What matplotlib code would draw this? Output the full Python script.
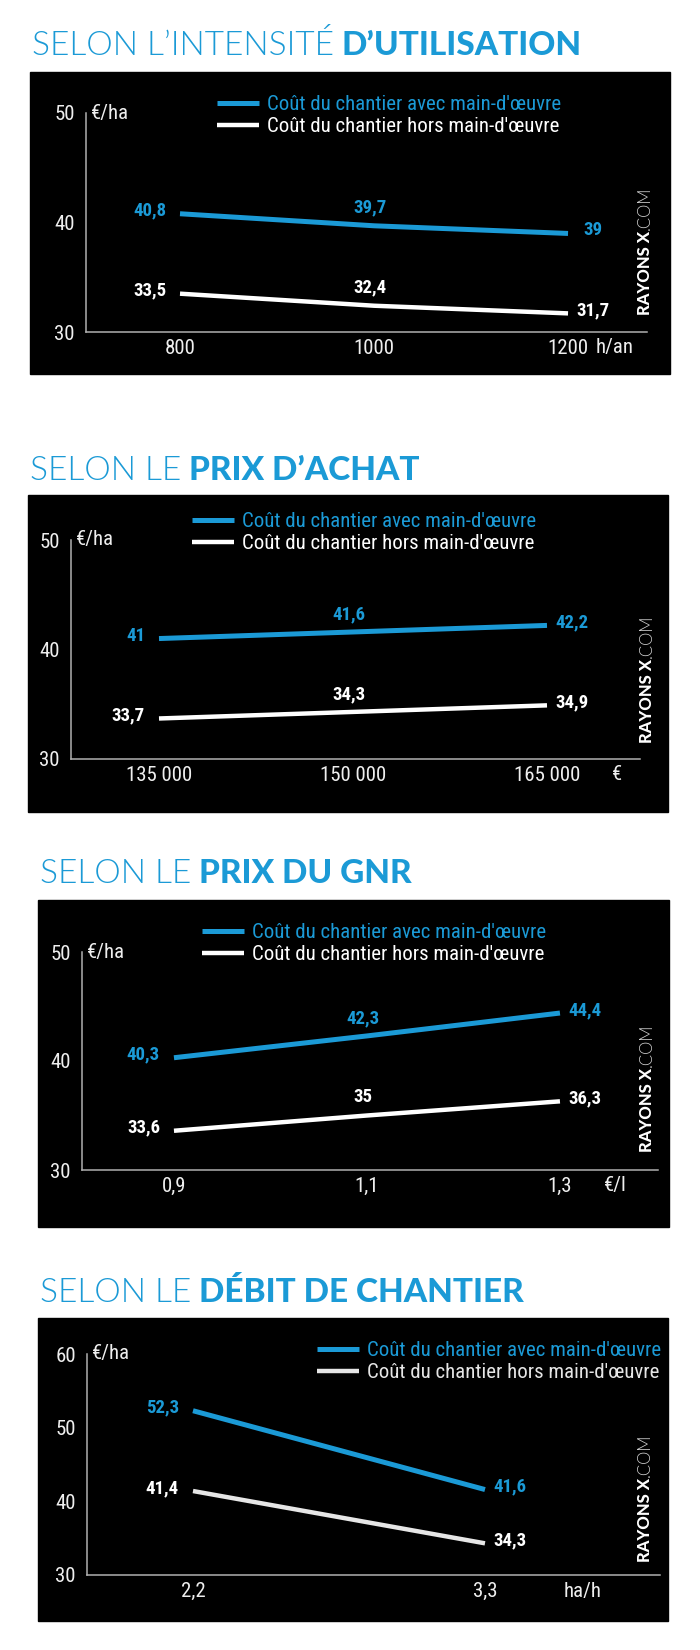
import matplotlib
matplotlib.use('Agg')
import matplotlib.pyplot as plt
from matplotlib.patches import Rectangle
from matplotlib.lines import Line2D
from matplotlib.font_manager import FontProperties

BLUE = '#1b9ad6'
GREY = '#b0b0b0'
NARROW = ['Roboto Condensed', 'DejaVu Sans']
TITLE_FONT = ['Lato', 'DejaVu Sans']

LEG_AVEC = "Coût du chantier avec main-d'œuvre"
LEG_HORS = "Coût du chantier hors main-d'œuvre"

# --- data ---
util_x = [800, 1000, 1200]
util_avec = [40.8, 39.7, 39.0]
util_hors = [33.5, 32.4, 31.7]
util_ticks = ['800', '1000', '1200']

achat_x = [135000, 150000, 165000]
achat_avec = [41.0, 41.6, 42.2]
achat_hors = [33.7, 34.3, 34.9]
achat_ticks = ['135 000', '150 000', '165 000']

gnr_x = [0.9, 1.1, 1.3]
gnr_avec = [40.3, 42.3, 44.4]
gnr_hors = [33.6, 35.0, 36.3]
gnr_ticks = ['0,9', '1,1', '1,3']

debit_x = [2.2, 3.3]
debit_avec = [52.3, 41.6]
debit_hors = [41.4, 34.3]
debit_ticks = ['2,2', '3,3']

W, H = 700, 1650
fig = plt.figure(figsize=(W / 100, H / 100), dpi=100)
fig.patch.set_facecolor('white')
renderer = fig.canvas.get_renderer()


def fx(x):
    return x / W


def fy(y):
    return 1 - y / H


def fr(v):
    return f'{v:g}'.replace('.', ',')


def title(x, y, light, bold):
    t = fig.text(fx(x), fy(y), light, family=TITLE_FONT, fontweight=300,
                 fontsize=24, color=BLUE, va='baseline')
    bb = t.get_window_extent(renderer)
    fig.text(fx(bb.x1 + 8), fy(y), bold, family=TITLE_FONT, fontweight=900,
             fontsize=24, color=BLUE, va='baseline')


def watermark(x, y):
    t = fig.text(fx(x), fy(y), 'RAYONS X', family=TITLE_FONT,
                 fontweight=900, fontsize=12, color='white', rotation=90,
                 ha='center', va='bottom')
    bb = t.get_window_extent(renderer)
    fig.text(fx(x), (bb.y1 + 1) / H, '.COM', family=TITLE_FONT,
             fontweight=300, fontsize=12, color='#d0d0d0', rotation=90,
             ha='center', va='bottom')


def panel(box, axpix, xs, avec, hors, ticks, xlim, ylim, yticks,
          ttl, leg, unit, wm, hors_color='white'):
    x0, y0, x1, y1 = box
    fig.add_artist(Rectangle((fx(x0), fy(y1)), (x1 - x0) / W, (y1 - y0) / H,
                             transform=fig.transFigure, color='black', zorder=0))
    ax_l, ax_t, ax_r, ax_b = axpix
    ax = fig.add_axes([fx(ax_l), fy(ax_b), (ax_r - ax_l) / W, (ax_b - ax_t) / H])
    ax.set_facecolor('none')
    for s in ['top', 'right']:
        ax.spines[s].set_visible(False)
    for s in ['left', 'bottom']:
        ax.spines[s].set_color(GREY)
        ax.spines[s].set_linewidth(1.1)
    ax.set_xlim(*xlim)
    ax.set_ylim(*ylim)
    ax.set_xticks(xs, ticks)
    ax.set_yticks(yticks, [str(v) for v in yticks])
    ax.tick_params(length=0, colors='#eeeeee', labelsize=15)
    ax.tick_params(axis='x', pad=5)
    ax.tick_params(axis='y', pad=8)
    for lab in ax.get_xticklabels() + ax.get_yticklabels():
        lab.set_family(NARROW)

    ax.plot(xs, avec, color=BLUE, lw=3.6, solid_capstyle='butt', clip_on=False)
    ax.plot(xs, hors, color=hors_color, lw=3.2, solid_capstyle='butt', clip_on=False)

    for vals, col in [(avec, BLUE), (hors, 'white')]:
        n = len(xs)
        for i, (xv, yv) in enumerate(zip(xs, vals)):
            if i == 0:
                off, ha = (-14, 3), 'right'
            elif i == n - 1:
                off, ha = (25, 3), 'center'
            else:
                off, ha = (-4, 18), 'center'
            ax.annotate(fr(yv), (xv, yv), xytext=off, textcoords='offset pixels',
                        ha=ha, va='center', color=col, family=NARROW,
                        fontweight='bold', fontsize=13.5)

    ax.annotate('€/ha', (0, 1), xycoords='axes fraction', xytext=(5, 0),
                textcoords='offset pixels', ha='left', va='center',
                color='#eeeeee', family=NARROW, fontsize=15)

    handles = [Line2D([], [], color=BLUE, lw=3.6, solid_capstyle='butt'),
               Line2D([], [], color=hors_color, lw=3.2, solid_capstyle='butt')]
    lx, ly = leg
    ax.legend(handles, [LEG_AVEC, LEG_HORS], loc='upper left',
              bbox_to_anchor=(fx(lx), fy(ly - 12)), bbox_transform=fig.transFigure,
              frameon=False, borderpad=0, borderaxespad=0, handlelength=2.0,
              handletextpad=0.4, labelspacing=0.15, labelcolor='linecolor',
              prop=FontProperties(family=NARROW, size=15))

    ux_label, ux = unit
    fig.text(fx(ux), fy(ax_b + 16), ux_label, ha='center', va='center',
             color='#eeeeee', family=NARROW, fontsize=15)

    title(ttl[0], ttl[1], ttl[2], ttl[3])
    watermark(*wm)
    return ax


panel((30, 72, 670, 374), (86, 113, 647, 332), util_x, util_avec, util_hors,
      util_ticks, (703.1, 1281.4), (30, 50), [30, 40, 50],
      (32, 55, 'SELON L\u2019INTENSITÉ', 'D\u2019UTILISATION'),
      (217, 107), ('h/an', 615), (645, 315))

panel((28, 495, 668, 812), (71, 540, 640, 759), achat_x, achat_avec, achat_hors,
      achat_ticks, (128196, 172191), (30, 50), [30, 40, 50],
      (30, 480, 'SELON LE', 'PRIX D\u2019ACHAT'),
      (192, 524), ('€', 617), (647, 743))

panel((38, 900, 669, 1227), (82, 952, 658, 1170), gnr_x, gnr_avec, gnr_hors,
      gnr_ticks, (0.8047, 1.4016), (30, 50), [30, 40, 50],
      (40, 883, 'SELON LE', 'PRIX DU GNR'),
      (202, 935), ('€/l', 615), (647, 1152))

panel((38, 1318, 668, 1621), (87, 1354, 660, 1575), debit_x, debit_avec, debit_hors,
      debit_ticks, (1.8007, 3.9593), (30, 60), [30, 40, 50, 60],
      (40, 1302, 'SELON LE', 'DÉBIT DE CHANTIER'),
      (317, 1353), ('ha/h', 583), (645, 1562), hors_color='#e6e6e6')

fig.savefig('out.png', dpi=100, facecolor='white')
